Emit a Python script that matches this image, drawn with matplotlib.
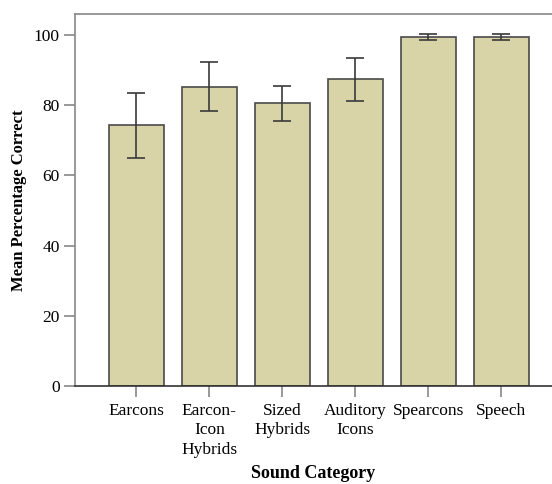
import matplotlib.pyplot as plt
import numpy as np

categories = ["Earcons", "Earcon-\nIcon\nHybrids", "Sized\nHybrids", "Auditory\nIcons", "Spearcons", "Speech"]
means = [74.3, 85.3, 80.6, 87.4, 99.5, 99.5]
errors = [9.3, 7.0, 5.0, 6.2, 0.9, 0.9]
yticks = [0, 20, 40, 60, 80, 100]

plt.rcParams['font.family'] = ['Liberation Serif', 'DejaVu Serif']

fig = plt.figure(figsize=(5.52, 4.84), dpi=100)
# axes spans to the right edge of the image (right spine is cut off)
ax = fig.add_axes([75/552, (484-386)/484, (552-75)/552, (386-14)/484])

x = np.arange(len(categories))
ax.bar(x, means, width=0.75, color="#d8d4a7", edgecolor="#4a4a4a", linewidth=1.2, zorder=2)
ax.errorbar(x, means, yerr=errors, fmt="none", ecolor="#3a3a3a", elinewidth=1.2,
            capsize=6.5, capthick=1.2, zorder=3)

ax.set_xlim(-0.84, (552 - 136.5) / 73.0)
ax.set_ylim(0, 106)
ax.set_yticks(yticks)
ax.set_xticks(x)
ax.set_xticklabels(categories, fontsize=12.5, linespacing=1.3)
ax.tick_params(axis="y", labelsize=12.5, length=8, width=1.2, color="#888888", pad=3)
ax.tick_params(axis="x", length=8, width=1.2, color="#888888", pad=4)

for side in ["left", "top", "bottom"]:
    ax.spines[side].set_color("#888888")
    ax.spines[side].set_linewidth(1.2)
ax.spines["bottom"].set_color("#333333")
ax.spines["right"].set_visible(False)

ax.set_ylabel("Mean Percentage Correct", fontsize=12, fontweight="bold", labelpad=5)
ax.set_xlabel("Sound Category", fontsize=13, fontweight="bold", labelpad=5)

fig.savefig("out.png", dpi=100)
